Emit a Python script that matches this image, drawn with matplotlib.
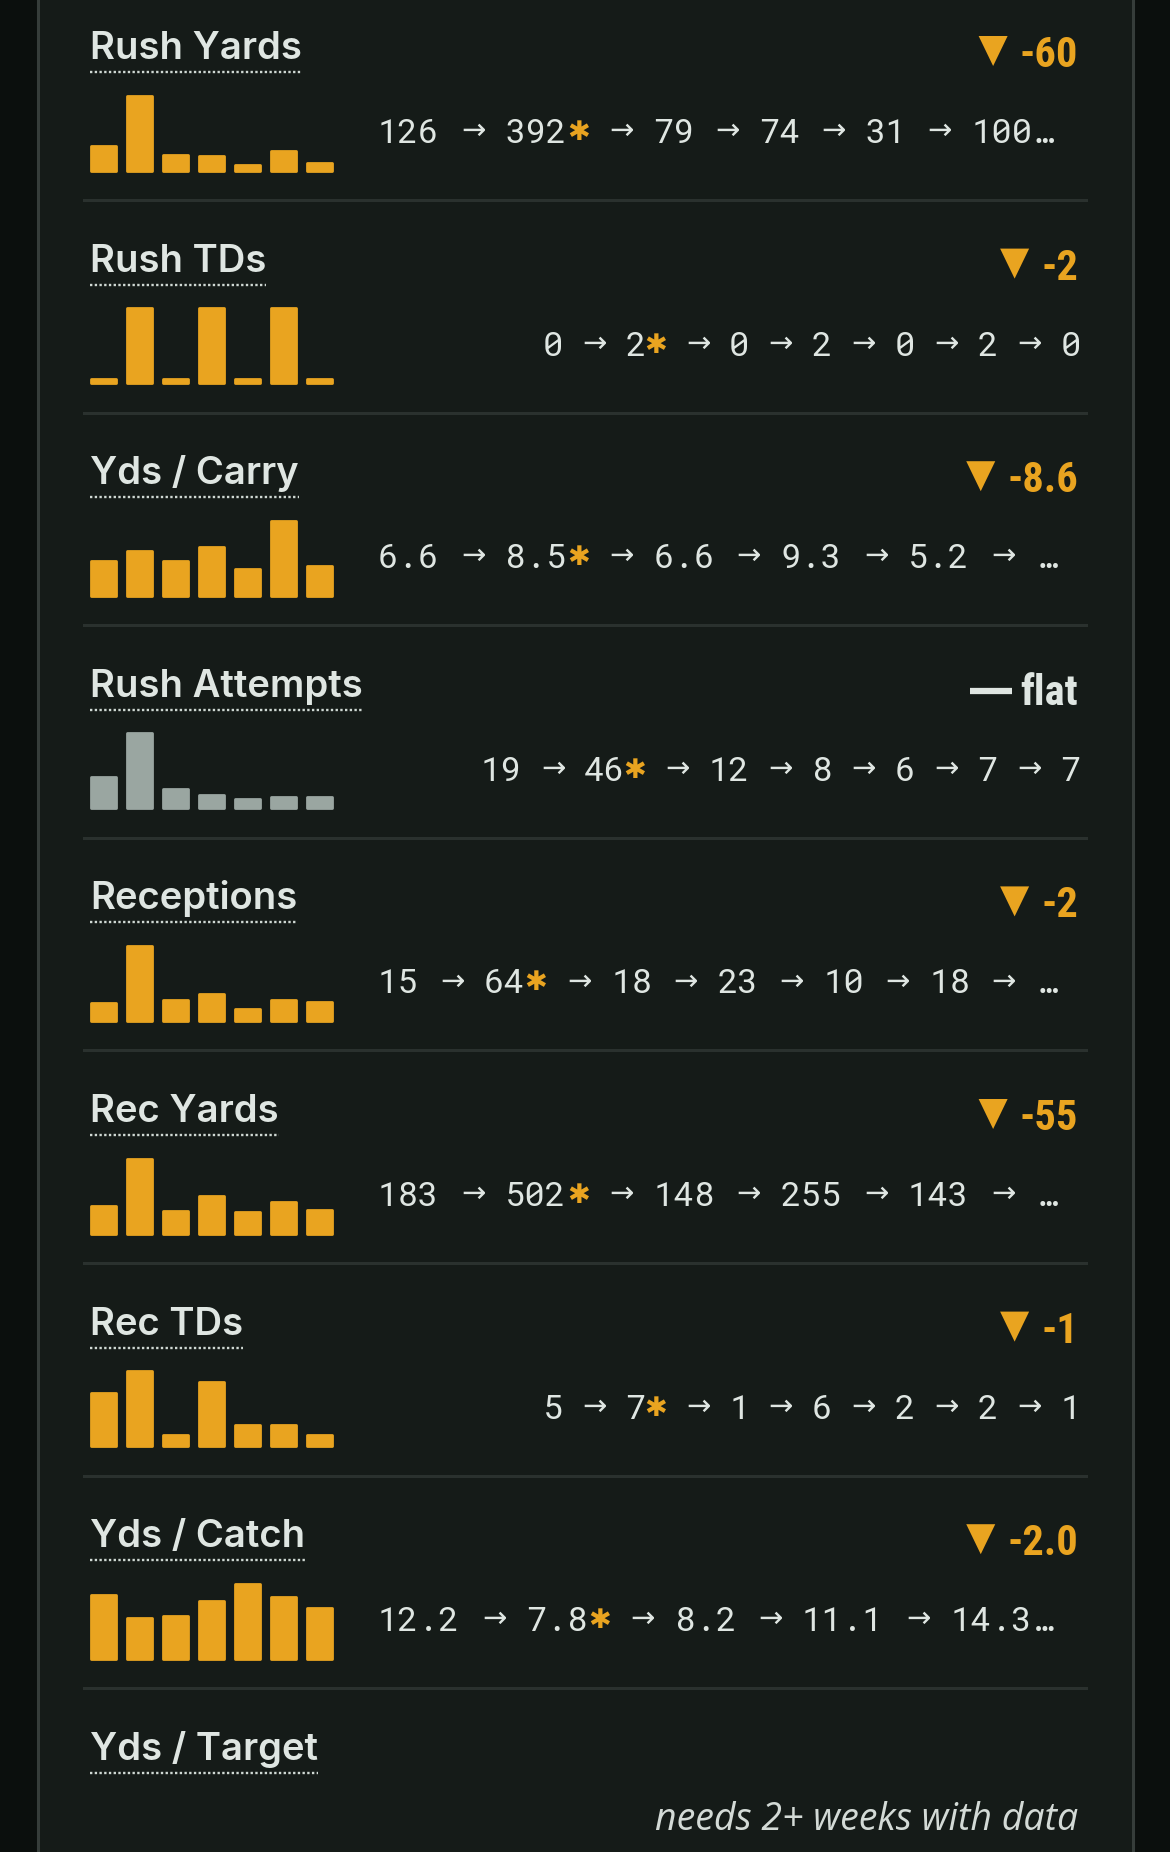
import matplotlib.pyplot as plt
from matplotlib.patches import Polygon

W, H = 1170, 1852

# stat rows, top to bottom
titles = ["Rush Yards", "Rush TDs", "Yds / Carry", "Rush Attempts",
          "Receptions", "Rec Yards", "Rec TDs", "Yds / Catch", "Yds / Target"]

rush_yards = [126, 392, 79, 74, 31, 100, 40]
rush_tds = [0, 2, 0, 2, 0, 2, 0]
yds_carry = [6.6, 8.5, 6.6, 9.3, 5.2, 14.3, 5.7]
rush_att = [19, 46, 12, 8, 6, 7, 7]
receptions = [15, 64, 18, 23, 10, 18, 16]
rec_yards = [183, 502, 148, 255, 143, 212, 155]
rec_tds = [5, 7, 1, 6, 2, 2, 1]
yds_catch = [12.2, 7.8, 8.2, 11.1, 14.3, 11.8, 9.7]

series = [rush_yards, rush_tds, yds_carry, rush_att,
          receptions, rec_yards, rec_tds, yds_catch]

seq_text = [
    "126 → 392* → 79 → 74 → 31 → 100…",
    "0 → 2* → 0 → 2 → 0 → 2 → 0",
    "6.6 → 8.5* → 6.6 → 9.3 → 5.2 → …",
    "19 → 46* → 12 → 8 → 6 → 7 → 7",
    "15 → 64* → 18 → 23 → 10 → 18 → …",
    "183 → 502* → 148 → 255 → 143 → …",
    "5 → 7* → 1 → 6 → 2 → 2 → 1",
    "12.2 → 7.8* → 8.2 → 11.1 → 14.3…",
]
truncated = [True, False, True, False, True, True, False, True]
deltas = ["-60", "-2", "-8.6", "flat", "-2", "-55", "-1", "-2.0"]
empty_note = "needs 2+ weeks with data"

BG = "#151b18"
OUT = "#0b0f0d"
EDGE = "#363d3a"
SEP = "#2a312e"
TXT = "#dfe6e2"
ORANGE = "#e9a420"
GRAY = "#9aa6a1"

ROW = 212.6
RIGHT = 1078
NARROW = ["Roboto Condensed", "Noto Sans Condensed", "Liberation Sans Narrow",
          "DejaVu Sans Condensed", "Noto Sans", "DejaVu Sans"]
MONO = ["Roboto Mono", "DejaVu Sans Mono"]

fig = plt.figure(figsize=(W / 100, H / 100), dpi=100, facecolor=OUT)
bg = fig.add_axes([0, 0, 1, 1])
bg.set_xlim(0, W)
bg.set_ylim(H, 0)
bg.axis("off")
bg.axvspan(38, 1132, color=BG, zorder=0)
bg.axvline(37.5, color=EDGE, lw=2.2, zorder=1)
bg.axvline(1132.5, color=EDGE, lw=2.2, zorder=1)

fig.canvas.draw()
rend = fig.canvas.get_renderer()


def width_px(t):
    return t.get_window_extent(renderer=rend).width


def draw_sequence(s, y, truncate):
    # monospace grid, one cell per character
    cw = 21.2 if truncate else 20.7
    left = 378 if truncate else RIGHT + 3 - len(s) * cw
    tokens = []
    start = None
    for j, ch in enumerate(s + " "):
        if ch in " *→" or j == len(s):
            if start is not None:
                tokens.append((start, s[start:j]))
                start = None
            if ch in "*→":
                tokens.append((j, ch))
        elif start is None:
            start = j
    for j, tok in tokens:
        x = left + j * cw
        if tok == "→":
            bg.text(x + cw / 2, y - 12, "→", family="DejaVu Sans", fontsize=21,
                    color=TXT, ha="center", va="center")
        elif tok == "*":
            bg.text(x + cw / 2 - 1, y - 10, "✱", family="DejaVu Sans",
                    fontsize=19.5, color=ORANGE, ha="center", va="center")
        else:
            bg.text(x, y, tok, family=MONO, fontsize=24.5,
                    color=TXT, ha="left", va="baseline")


for i, name in enumerate(titles):
    y0 = i * ROW
    # title with dotted underline
    t = bg.text(90, y0 + 59, name, family="Inter", fontweight="semibold",
                fontsize=27.5, color=TXT, va="baseline", ha="left")
    tw = width_px(t)
    bg.plot([90, 90 + tw], [y0 + 72, y0 + 72], color="#cfd8d3", lw=1.7,
            linestyle=(0, (1, 1)), solid_capstyle="butt")

    if i < len(series):
        bg.plot([84, 1086], [y0 + 200, y0 + 200], color=SEP, lw=2.2)

    if i == len(series):
        bg.text(RIGHT, y0 + 1830 - 8 * ROW, empty_note, family="Open Sans",
                style="italic", fontsize=27, color="#d3dad6",
                ha="right", va="baseline")
        continue

    vals = series[i]
    d = deltas[i]
    flat = d == "flat"
    color = GRAY if flat else ORANGE

    # delta badge
    dt = bg.text(RIGHT, y0 + 67, d, family=NARROW, fontstretch="condensed",
                 fontweight="heavy", fontsize=30.5,
                 color=TXT if flat else ORANGE, ha="right", va="baseline")
    dw = width_px(dt)
    if flat:
        x1 = RIGHT - dw - 8
        bg.plot([x1 - 42, x1], [y0 + 53, y0 + 53], color=TXT, lw=4.5,
                solid_capstyle="butt")
    else:
        x1 = RIGHT - dw - 12
        tri = Polygon([[x1 - 29, y0 + 36], [x1, y0 + 36], [x1 - 14.5, y0 + 66]],
                      closed=True, color=ORANGE, lw=0)
        bg.add_patch(tri)

    # mini bar chart
    base = y0 + 172
    ax = fig.add_axes([85.5 / W, 1 - (base - 1.4) / H, 252 / W, 75 / H])
    vmax = max(vals)
    heights = [max(v, vmax * 0.06) for v in vals]
    ax.bar(range(len(vals)), heights, width=0.672, color=color,
           edgecolor=color, linewidth=2, joinstyle="round", clip_on=False)
    ax.set_xlim(-0.5, 6.5)
    ax.set_ylim(0, vmax)
    ax.axis("off")

    # value sequence, highlighted week marked with an orange asterisk
    draw_sequence(seq_text[i], y0 + 143, truncated[i])

fig.savefig("out.png", dpi=100, facecolor=OUT)
